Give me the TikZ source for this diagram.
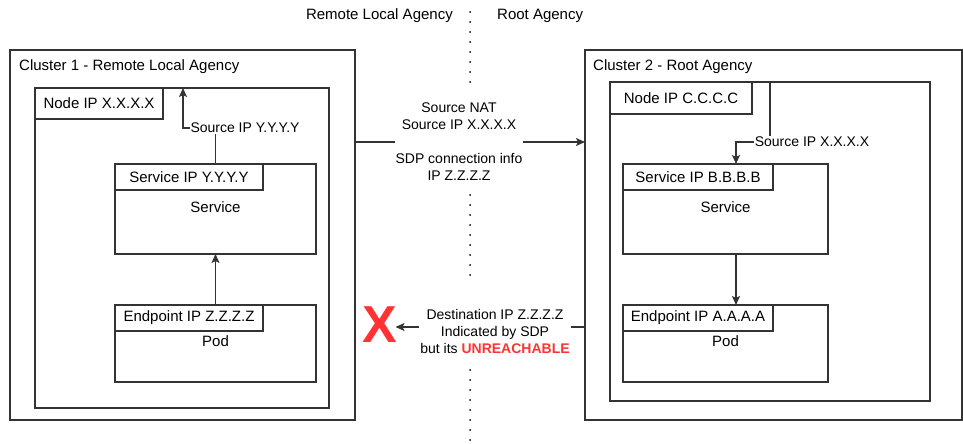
\documentclass[tikz,border=0pt]{standalone}
\usepackage{fontspec}
\setmainfont{Liberation Sans}
\usetikzlibrary{arrows.meta}
\definecolor{ln}{HTML}{333333}
\definecolor{xred}{HTML}{FF3333}
\begin{document}
\begin{tikzpicture}[x=1pt,y=-1pt,
  boxst/.style={draw=ln, line width=1.3pt, inner sep=0pt, outer sep=0pt, anchor=north west},
  t15/.style={font=\fontsize{15}{18}\selectfont, text=black},
  t14/.style={font=\fontsize{14}{17}\selectfont, text=black},
  arr/.style={draw=ln, line width=1.3pt, -{Stealth[length=9pt,width=8pt,inset=2pt]}},
  dotln/.style={draw=black, line width=2pt, line cap=round, dash pattern=on 0pt off 10pt},
  lbl/.style={t14, fill=white, inner sep=1pt, align=center}]
\useasboundingbox (0,0) rectangle (963,444);

% separator
\coordinate (d0) at (470,12);
\coordinate (d1) at (470,88);
\coordinate (d2) at (470,195);
\coordinate (d3) at (470,280);
\coordinate (d4) at (470,370);
\coordinate (d5) at (470,444);
\draw[dotln] (d0) -- (d1);
\draw[dotln] (d2) -- (d3);
\draw[dotln] (d4) -- (d5);
\node[t15, anchor=east, inner sep=0pt] (hl) at (453,16) {Remote Local Agency};
\node[t15, anchor=west, inner sep=0pt] (hr) at (497,16) {Root Agency};

% cluster 1
\node[boxst, minimum width=345pt, minimum height=370pt] (c1) at (10,50) {};
\node[t15, anchor=west, inner sep=0pt] (c1t) at (19,67) {Cluster 1 - Remote Local Agency};
\node[boxst, minimum width=294pt, minimum height=320pt] (n1) at (35,88) {};
\node[boxst, t15, minimum width=128pt, minimum height=31pt] (n1l) at (35,88) {Node IP X.X.X.X};
\node[boxst, minimum width=201pt, minimum height=90pt] (svc1) at (115,164) {};
\node[boxst, t15, minimum width=148pt, minimum height=26pt] (svc1l) at (115,164) {Service IP Y.Y.Y.Y};
\node[t15] (svc1t) at (215.5,207) {Service};
\node[boxst, minimum width=201pt, minimum height=77pt] (ep1) at (115,305) {};
\node[boxst, t15, minimum width=148pt, minimum height=26pt] (ep1l) at (115,305) {Endpoint IP Z.Z.Z.Z};
\node[t15] (ep1t) at (215.5,341) {Pod};

% cluster 2
\node[boxst, minimum width=377pt, minimum height=370pt] (c2) at (585,50) {};
\node[t15, anchor=west, inner sep=0pt] (c2t) at (593,67) {Cluster 2 - Root Agency};
\node[boxst, minimum width=320pt, minimum height=319pt] (n2) at (610,82) {};
\node[boxst, t15, minimum width=142pt, minimum height=32pt] (n2l) at (610,82) {Node IP C.C.C.C};
\node[boxst, minimum width=205pt, minimum height=90pt] (svc2) at (623,164) {};
\node[boxst, t15, minimum width=150pt, minimum height=26pt] (svc2l) at (623,164) {Service IP B.B.B.B};
\node[t15] (svc2t) at (725.5,207) {Service};
\node[boxst, minimum width=205pt, minimum height=77pt] (ep2) at (623,305) {};
\node[boxst, t15, minimum width=150pt, minimum height=26pt] (ep2l) at (623,305) {Endpoint IP A.A.A.A};
\node[t15] (ep2t) at (725.5,341) {Pod};

% cluster 1 flows
\draw[arr] (ep1.north) -- (svc1.south);
\coordinate (b1) at (183,128);
\draw[arr] (svc1.north) |- (b1) -- (b1 |- n1.north);
\node[lbl] (l1) at (245,128) {Source IP Y.Y.Y.Y};

% cluster 2 flows
\coordinate (t2) at (770,82);
\coordinate (b2) at (736,142);
\draw[arr] (n2.north -| t2) |- (b2) -- (svc2.north -| b2);
\node[lbl] (l2) at (812,142) {Source IP X.X.X.X};
\draw[arr] (svc2.south -| b2) -- (ep2.north -| b2);

% between clusters
\coordinate (m1) at (470,142);
\draw[arr] (c1.east |- m1) -- (c2.west |- m1);
\node[lbl] (l3) at (459,142) {Source NAT\\Source IP X.X.X.X\\[17pt]SDP connection info\\IP Z.Z.Z.Z};

\node[text=xred, font=\fontsize{52}{52}\selectfont\bfseries, inner sep=0pt] (xm) at (380,325) {X};
\coordinate (m2) at (470,327);
\draw[arr] (c2.west |- m2) -- ([xshift=-2pt]xm.east |- m2);
\node[lbl] (l4) at (495,331) {Destination IP Z.Z.Z.Z\\Indicated by SDP\\but its \textcolor{xred}{\bfseries UNREACHABLE}};
\end{tikzpicture}
\end{document}
